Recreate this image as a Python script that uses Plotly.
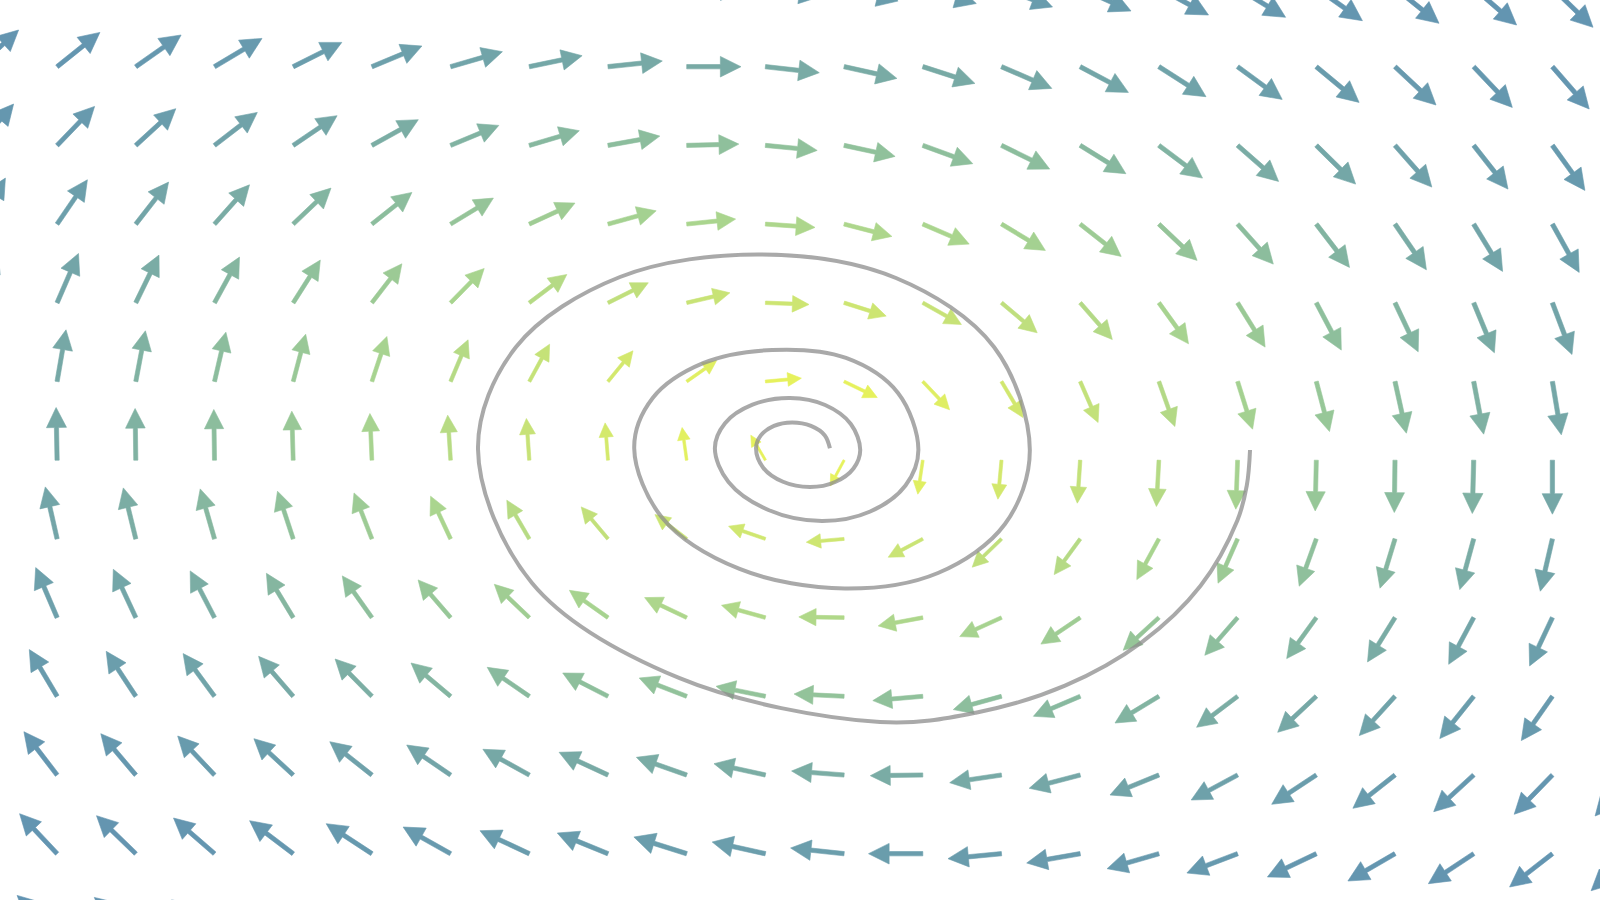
import math
import plotly.graph_objects as go
from plotly.colors import sample_colorscale

# ---------------- data ----------------
# grid of arrow tails (data units, one grid step = 1)
x_grid = [-10, -9, -8, -7, -6, -5, -4, -3, -2, -1, 0, 1, 2, 3, 4, 5, 6, 7, 8, 9, 10, 11]
y_grid = [6, 5, 4, 3, 2, 1, 0, -1, -2, -3, -4, -5, -6]

# displayed vector components per grid point (rows follow y_grid, columns follow x_grid),
# read off the picture in screen pixels (V positive = upwards)
U_rows = [
    [43, 45, 47.5, 49.5, 50.5, 52, 53.5, 55, 55.5, 55.5, 55, 54, 53.5, 51, 50.8, 49.6, 48, 46.1, 44, 42.9, 40.6, 38.5],
    [40.2, 42.8, 45.3, 47.5, 48.6, 50, 51.8, 52.8, 54.3, 54.3, 53.9, 52.8, 52.1, 50.3, 48.2, 47.1, 44.6, 42.8, 41, 38.6, 36.8, 35],
    [35.2, 37.5, 40, 42.8, 43.9, 46.4, 48.2, 50, 51.8, 52.1, 51.8, 51, 50, 48.2, 45.7, 43.6, 41, 39.3, 36.8, 34.3, 32.5, 30.5],
    [27, 30.3, 32.8, 35, 37.8, 40, 42.8, 45.7, 48.2, 48.9, 49.6, 47.8, 46.4, 43.9, 41, 38.2, 35.7, 33.2, 31.4, 28.9, 26.8, 24.5],
    [19.5, 21.4, 23.2, 25, 27.1, 30, 33.6, 37.5, 40.3, 43.2, 43.6, 42.1, 38.6, 35.7, 32.1, 29.6, 27.5, 25, 23.2, 20.7, 19.6, 18.5],
    [8, 8.9, 9.6, 11.4, 12.5, 15, 17.5, 20.3, 25, 30, 36, 33.2, 26.8, 21.4, 17.9, 16, 15, 13.2, 11.4, 10, 8.9, 8],
    [-1, -1, -0.7, -0.7, -1.4, -2, -2.9, -2.9, -2.9, -4.6, -14.6, -13.9, -5, -3.6, -2.9, -2.5, -1.8, -1.1, -0.7, -1.4, 0, 0.5],
    [-11, -11.8, -12.5, -14.3, -15.7, -17.9, -20, -22.5, -26.8, -31.8, -36.8, -37.8, -34.6, -29.3, -26, -22.1, -19.6, -17.1, -15, -13.9, -12.1, -11],
    [-20, -21.4, -22.5, -24.3, -26.8, -29.6, -32.5, -35, -38.6, -42.1, -43.9, -45.3, -44.6, -41.8, -39.3, -35.7, -32.8, -29.6, -27.5, -25, -22.8, -21],
    [-26, -27.8, -29.6, -31.4, -34.6, -36.8, -39.6, -42.1, -45.3, -47.5, -49.3, -50, -50, -48.2, -46.8, -43.9, -41, -38.6, -35.7, -33.9, -31.1, -29],
    [-31.5, -33.2, -35, -36.8, -39.3, -42.1, -43.9, -46.4, -48.9, -50.3, -51.4, -52.5, -52.5, -51.8, -51, -48.9, -46.4, -44.6, -42.1, -40, -38.2, -36],
    [-36, -37.5, -39.3, -41, -43.6, -45.7, -47.5, -49.3, -50.7, -52.8, -53.2, -53.5, -54.3, -53.5, -53.5, -51.8, -50.7, -48.9, -47.1, -45.3, -42.8, -40],
    [-38.5, -40, -41.5, -43, -45.5, -47.5, -49, -50.5, -52, -54, -54.5, -55, -55.5, -55, -55, -53.5, -52.5, -51, -49.5, -47.5, -45.5, -43],
]
V_rows = [
    [34, 31.5, 28.5, 25, 21.5, 17.5, 12, 7, 2, -3, -8.5, -13, -15.5, -19, -23, -27, -29.3, -32.7, -35.3, -37, -39.3, -41],
    [36.7, 34.3, 31.7, 28.3, 24.3, 20.7, 15, 11, 5.7, 0, -6, -11.7, -16.7, -21.7, -25.7, -30, -32.7, -35.7, -38.3, -40.7, -42.3, -43.5],
    [41.4, 39, 36.7, 33, 29.7, 25.7, 20, 14.7, 9.3, 1.3, -5, -11, -18.3, -23.7, -28.3, -32.7, -36, -38.7, -41.7, -43.7, -45, -46.5],
    [46, 44.3, 42, 39.3, 36, 31.7, 26, 21, 13.3, 5, -3.3, -12.3, -20, -26.3, -32.3, -36.3, -40, -43.3, -45.7, -47.3, -48.3, -49.5],
    [51, 49.3, 47.7, 45.7, 42.7, 39, 34.3, 28.3, 20, 10, -1.7, -13.3, -21.7, -30, -36.7, -41, -44.3, -47.3, -49, -50, -51.7, -52.5],
    [53, 51.7, 50.7, 49.3, 47.3, 45, 41.7, 37.3, 30.7, 21, 3.3, -16, -28.3, -36, -41, -45, -47.7, -50, -51.7, -52.7, -53.3, -54],
    [54, 52.7, 51.7, 50.7, 49, 46.7, 45, 41.7, 37.3, 32.7, 25, -25.7, -34, -39, -43, -46.3, -49, -50.7, -52.3, -53.3, -54, -54.5],
    [53, 52, 51, 50, 47.7, 46, 42.7, 38.7, 32, 24.3, 12.7, -3.3, -18.3, -28.3, -35.7, -40.7, -44.3, -47.3, -49.3, -50.7, -52.3, -53],
    [51.5, 50, 48.3, 46.7, 44.3, 41.7, 37.7, 33.3, 27.3, 20, 12.3, 0.7, -8.3, -19, -26.5, -32.7, -37.7, -41, -44.3, -46.7, -48.3, -49.5],
    [48.5, 46.7, 45, 42.7, 40, 37.3, 33.3, 29, 23.3, 18.3, 10, 2.3, -4.3, -13.3, -20, -26.7, -31, -36, -39.3, -42.3, -44.3, -45.5],
    [45, 43.3, 41.3, 39, 36.3, 33.3, 30, 25.7, 22.7, 17.7, 11.3, 4, -0.7, -7.7, -13.3, -20, -25, -29.3, -33.3, -36.7, -39.3, -41],
    [42, 40, 38, 35.7, 33, 30, 26.7, 23, 20.7, 16.7, 11.7, 5.7, 0, -5, -9.3, -15, -19.3, -23.3, -27.3, -30, -33.3, -37],
    [39, 37, 35, 32.5, 30, 27, 24, 20.5, 18, 14, 10, 5, 0, -4.5, -8.5, -13, -17, -21, -24.5, -27.5, -30.5, -34],
]
# field speed per grid point (drives the colour)
speed_rows = [
    [15.2, 14.6, 13.9, 13.4, 12.8, 12.4, 12.0, 11.6, 11.4, 11.2, 11.1, 11.1, 11.2, 11.4, 11.7, 12.0, 12.4, 12.9, 13.4, 14.0, 14.6, 15.3],
    [13.8, 13.1, 12.4, 11.8, 11.1, 10.6, 10.1, 9.7, 9.4, 9.2, 9.1, 9.1, 9.2, 9.5, 9.8, 10.2, 10.7, 11.2, 11.8, 12.5, 13.2, 13.9],
    [12.6, 11.8, 11.0, 10.3, 9.6, 8.9, 8.4, 7.9, 7.5, 7.2, 7.1, 7.1, 7.3, 7.5, 7.9, 8.4, 9.0, 9.7, 10.4, 11.1, 11.9, 12.7],
    [11.6, 10.7, 9.9, 9.0, 8.2, 7.5, 6.8, 6.1, 5.7, 5.3, 5.1, 5.1, 5.3, 5.7, 6.2, 6.8, 7.5, 8.3, 9.1, 10.0, 10.8, 11.7],
    [10.9, 9.9, 9.0, 8.1, 7.1, 6.3, 5.4, 4.6, 3.9, 3.4, 3.1, 3.1, 3.5, 4.0, 4.7, 5.5, 6.4, 7.3, 8.2, 9.1, 10.0, 11.0],
    [10.5, 9.5, 8.5, 7.5, 6.5, 5.5, 4.6, 3.6, 2.7, 1.8, 1.2, 1.2, 1.9, 2.8, 3.7, 4.7, 5.7, 6.6, 7.6, 8.6, 9.6, 10.6],
    [10.5, 9.5, 8.5, 7.5, 6.5, 5.5, 4.5, 3.5, 2.6, 1.7, 1.0, 1.1, 1.8, 2.7, 3.7, 4.6, 5.6, 6.6, 7.6, 8.6, 9.6, 10.6],
    [10.8, 9.9, 8.9, 8.0, 7.1, 6.2, 5.3, 4.5, 3.8, 3.2, 2.9, 3.0, 3.3, 3.9, 4.6, 5.4, 6.3, 7.2, 8.1, 9.0, 10.0, 11.0],
    [11.5, 10.6, 9.8, 8.9, 8.1, 7.3, 6.6, 6.0, 5.5, 5.1, 4.9, 4.9, 5.1, 5.5, 6.1, 6.7, 7.4, 8.2, 9.0, 9.9, 10.7, 11.6],
    [12.5, 11.7, 10.9, 10.1, 9.4, 8.8, 8.2, 7.7, 7.3, 7.0, 6.9, 6.9, 7.1, 7.4, 7.8, 8.3, 8.9, 9.5, 10.2, 11.0, 11.8, 12.6],
    [13.7, 13.0, 12.3, 11.6, 11.0, 10.4, 9.9, 9.5, 9.2, 9.0, 8.9, 8.9, 9.0, 9.3, 9.6, 10.0, 10.5, 11.1, 11.7, 12.3, 13.1, 13.8],
    [15.1, 14.4, 13.8, 13.2, 12.7, 12.2, 11.8, 11.4, 11.2, 11.0, 10.9, 10.9, 11.0, 11.2, 11.5, 11.8, 12.2, 12.7, 13.3, 13.9, 14.5, 15.2],
    [16.6, 16.0, 15.4, 14.9, 14.4, 14.0, 13.6, 13.3, 13.1, 13.0, 12.9, 12.9, 13.0, 13.2, 13.4, 13.7, 14.0, 14.5, 15.0, 15.5, 16.1, 16.7],
]

# trajectory (spiral) points, data units, from its inner start to its outer end
spiral_x = [0.820, 0.755, 0.579, 0.338, 0.109, -0.058, -0.119, -0.028, 0.224, 0.567, 0.886, 1.119, 1.205,
            1.085, 0.759, 0.313, -0.164, -0.513, -0.642, -0.469, 0.039, 0.719, 1.332, 1.780, 1.944,
            1.685, 1.024, 0.084, -0.792, -1.432, -1.667, -1.309, -0.328, 1.011, 2.193, 3.044, 3.360,
            2.905, 1.659, -0.043, -1.848, -3.169, -3.652, -2.966, -1.098, 1.456,
            2.673, 3.807, 4.780, 5.527, 5.997, 6.117, 6.158]
spiral_y = [0.151, 0.315, 0.435, 0.479, 0.435, 0.315, 0.151, -0.095, -0.274, -0.341, -0.277, -0.105, 0.130,
            0.460, 0.701, 0.790, 0.705, 0.470, 0.151, -0.277, -0.633, -0.773, -0.652, -0.321, 0.130,
            0.854, 1.299, 1.400, 1.233, 0.790, 0.151, -0.734, -1.382, -1.630, -1.433, -0.811, 0.130,
            1.438, 2.315, 2.614, 2.328, 1.438, 0.142, -1.560, -2.767, -3.327,
            -3.208, -2.864, -2.314, -1.598, -0.765, -0.321, 0.130]

# ---------------- styling ----------------
PX_PER_UNIT = 78.7          # quiver scale: vector readings are in pixels of one grid step
SPEED_MAX = 16.7
colorscale = [
    [0.00, "rgb(233,243,90)"],
    [0.09, "rgb(229,241,94)"],
    [0.204, "rgb(200,227,118)"],
    [0.317, "rgb(170,213,142)"],
    [0.431, "rgb(143,192,156)"],
    [0.545, "rgb(121,171,165)"],
    [0.659, "rgb(106,157,172)"],
    [0.778, "rgb(100,150,176)"],
    [1.00, "rgb(98,147,178)"],
]
SHAFT_HALF = 0.04   # fractions of arrow length
HEAD_LEN = 0.38
HEAD_HALF = 0.19

fig = go.Figure()

for r, y0 in enumerate(y_grid):
    for c, x0 in enumerate(x_grid):
        u = U_rows[r][c] / PX_PER_UNIT
        v = V_rows[r][c] / PX_PER_UNIT
        L = math.hypot(u, v)
        if L == 0:
            continue
        ux, uy = u / L, v / L
        nx, ny = -uy, ux
        sw, hl, hw = SHAFT_HALF * L, HEAD_LEN * L, HEAD_HALF * L
        bx, by = x0 + ux * (L - hl), y0 + uy * (L - hl)
        px = [x0 + nx * sw, bx + nx * sw, bx + nx * hw, x0 + u, bx - nx * hw, bx - nx * sw, x0 - nx * sw, x0 + nx * sw]
        py = [y0 + ny * sw, by + ny * sw, by + ny * hw, y0 + v, by - ny * hw, by - ny * sw, y0 - ny * sw, y0 + ny * sw]
        col = sample_colorscale(colorscale, [min(speed_rows[r][c] / SPEED_MAX, 1.0)])[0]
        fig.add_trace(go.Scatter(
            x=px, y=py, mode="lines", fill="toself", fillcolor=col,
            line=dict(width=0.6, color=col), hoverinfo="skip", showlegend=False,
        ))

fig.add_trace(go.Scatter(
    x=spiral_x, y=spiral_y, mode="lines",
    line=dict(color="rgba(140,140,140,0.75)", width=4, shape="spline", smoothing=1.0),
    hoverinfo="skip", showlegend=False,
))

fig.update_layout(
    width=1600, height=900,
    margin=dict(l=0, r=0, t=0, b=0),
    paper_bgcolor="white", plot_bgcolor="white",
    showlegend=False,
    xaxis=dict(range=[-9.7255, 10.6048], visible=False, fixedrange=True),
    yaxis=dict(range=[-5.5883, 5.8475], visible=False, fixedrange=True),
)

# the page's default 8px body margin would push the 1600x900 figure off the window edge
fig.write_html(
    "out.html",
    config={"displayModeBar": False, "staticPlot": True},
    post_script="document.documentElement.style.margin='0';document.body.style.margin='0';document.body.style.padding='0';",
)
